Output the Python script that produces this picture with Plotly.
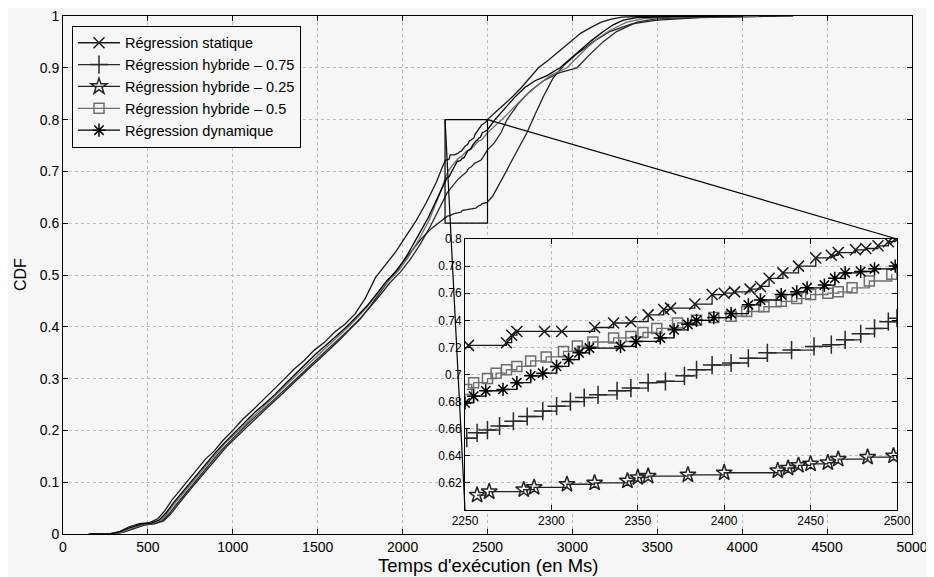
import plotly.graph_objects as go

# ---------------- data ----------------
series_names = ["Régression statique", "Régression hybride – 0.75", "Régression hybride – 0.25",
                "Régression hybride – 0.5", "Régression dynamique"]

statique_x = [150, 270, 330, 390, 450, 510, 560, 600, 640, 690, 740, 790, 840, 890, 940, 1000, 1060, 1120,
              1180, 1240, 1300, 1360, 1420, 1480, 1540, 1600, 1660, 1720, 1780, 1840, 1900, 1960, 2020, 2080,
              2140, 2200, 2230,
              2252, 2274, 2277, 2280, 2296, 2306, 2325, 2336, 2346, 2356, 2365, 2369, 2383, 2393, 2400, 2406,
              2415, 2421, 2426, 2434, 2443, 2453, 2462, 2466, 2476, 2482, 2489, 2495, 2499,
              2550, 2600, 2650, 2700, 2750, 2800, 2860, 2930, 2990, 3050, 3110, 3170, 3230, 3290, 3400, 3600, 3700]
statique_y = [0, 0, 0.004, 0.014, 0.02, 0.022, 0.03, 0.045, 0.065, 0.085, 0.105, 0.125, 0.145, 0.16, 0.18, 0.2,
              0.222, 0.24, 0.26, 0.278, 0.298, 0.318, 0.335, 0.355, 0.37, 0.39, 0.405, 0.425, 0.455, 0.495, 0.52,
              0.545, 0.575, 0.605, 0.64, 0.68, 0.705,
              0.7215, 0.7235, 0.729, 0.7318, 0.7318, 0.7318, 0.7347, 0.738, 0.739, 0.744, 0.748, 0.749, 0.752,
              0.759, 0.760, 0.761, 0.763, 0.765, 0.771, 0.775, 0.780, 0.786, 0.788, 0.790, 0.792, 0.793, 0.795,
              0.798, 0.800,
              0.815, 0.83, 0.845, 0.862, 0.882, 0.9, 0.915, 0.934, 0.952, 0.967, 0.978, 0.988, 0.994, 0.998,
              0.999, 1.0, 1.0]

hyb075_x = [180, 300, 360, 420, 480, 540, 585, 625, 665, 715, 765, 815, 865, 915, 965, 1025, 1085, 1145, 1205,
            1265, 1325, 1385, 1445, 1505, 1565, 1625, 1685, 1745, 1805, 1865, 1925, 1985, 2045, 2105, 2165,
            2210, 2235,
            2251, 2257, 2263, 2270, 2278, 2286, 2295, 2303, 2311, 2319, 2327, 2338, 2346, 2356, 2366, 2377,
            2384, 2393, 2404, 2414, 2425, 2439, 2452, 2462, 2470, 2479, 2487, 2495, 2500,
            2540, 2580, 2615, 2680, 2750, 2830, 2920, 3027, 3100, 3180, 3260, 3380, 3500, 3800, 4300]
hyb075_y = [0, 0, 0.004, 0.012, 0.018, 0.02, 0.026, 0.039, 0.056, 0.076, 0.096, 0.116, 0.135, 0.155, 0.173,
            0.193, 0.212, 0.23, 0.248, 0.266, 0.285, 0.303, 0.322, 0.34, 0.358, 0.376, 0.395, 0.414, 0.436,
            0.46, 0.485, 0.505, 0.53, 0.56, 0.595, 0.625, 0.642,
            0.653, 0.657, 0.659, 0.662, 0.6655, 0.669, 0.673, 0.6766, 0.680, 0.683, 0.685, 0.688, 0.690,
            0.694, 0.695, 0.699, 0.7035, 0.707, 0.7085, 0.712, 0.716, 0.718, 0.7207, 0.722, 0.7256, 0.730,
            0.734, 0.739, 0.7416,
            0.755, 0.775, 0.8, 0.83, 0.855, 0.875, 0.89, 0.9, 0.925, 0.95, 0.97, 0.988, 0.995, 0.998, 1.0]

hyb025_x = [190, 300, 360, 420, 480, 540, 590, 630, 670, 720, 770, 820, 870, 920, 970, 1030, 1090, 1150, 1210,
            1270, 1330, 1390, 1450, 1510, 1570, 1630, 1690, 1750, 1810, 1870, 1930, 1990, 2050, 2110, 2170,
            2220,
            2257, 2264, 2284, 2290, 2309, 2325, 2344, 2350, 2356, 2379, 2400, 2431, 2437, 2443, 2450, 2460,
            2466, 2483, 2498,
            2530, 2570, 2610, 2650, 2690, 2733, 2780, 2830, 2886, 2950, 3020, 3121, 3220, 3350, 3500, 3750, 4200]
hyb025_y = [0, 0, 0.004, 0.011, 0.017, 0.02, 0.025, 0.037, 0.054, 0.074, 0.094, 0.114, 0.134, 0.152, 0.171,
            0.19, 0.209, 0.228, 0.246, 0.264, 0.283, 0.302, 0.32, 0.338, 0.356, 0.375, 0.395, 0.415, 0.44,
            0.468, 0.495, 0.52, 0.545, 0.57, 0.59, 0.603,
            0.611, 0.6135, 0.615, 0.6167, 0.619, 0.620, 0.6215, 0.624, 0.625, 0.626, 0.6275, 0.629, 0.631,
            0.633, 0.634, 0.635, 0.6375, 0.639, 0.640,
            0.652, 0.675, 0.7, 0.725, 0.75, 0.775, 0.81, 0.845, 0.88, 0.905, 0.925, 0.95, 0.97, 0.985, 0.992,
            0.997, 1.0]

hyb05_x = [170, 290, 350, 410, 470, 530, 575, 615, 655, 705, 755, 805, 855, 905, 955, 1015, 1075, 1135, 1195,
           1255, 1315, 1375, 1435, 1495, 1555, 1615, 1675, 1735, 1795, 1855, 1915, 1975, 2035, 2095, 2155,
           2205, 2235,
           2251, 2255, 2263, 2268, 2274, 2280, 2288, 2297, 2307, 2315, 2324, 2336, 2346, 2353, 2361, 2373,
           2384, 2394, 2404, 2413, 2423, 2433, 2442, 2450, 2460, 2466, 2474, 2484, 2497,
           2585, 2650, 2720, 2790, 2870, 2968, 3030, 3090, 3150, 3220, 3320, 3420, 3600, 4100]
hyb05_y = [0, 0, 0.004, 0.012, 0.018, 0.021, 0.027, 0.04, 0.058, 0.078, 0.098, 0.118, 0.137, 0.156, 0.175,
           0.194, 0.213, 0.232, 0.25, 0.268, 0.287, 0.306, 0.325, 0.343, 0.361, 0.38, 0.398, 0.418, 0.44,
           0.465, 0.488, 0.508, 0.535, 0.568, 0.605, 0.645, 0.672,
           0.689, 0.694, 0.697, 0.701, 0.7035, 0.706, 0.710, 0.713, 0.717, 0.721, 0.724, 0.727, 0.728, 0.731,
           0.734, 0.738, 0.740, 0.742, 0.743, 0.7465, 0.750, 0.754, 0.756, 0.759, 0.760, 0.761, 0.764, 0.769,
           0.774,
           0.8, 0.822, 0.845, 0.865, 0.885, 0.9, 0.92, 0.94, 0.957, 0.972, 0.988, 0.995, 0.998, 1.0]

dyn_x = [160, 280, 340, 400, 460, 520, 570, 610, 650, 700, 750, 800, 850, 900, 950, 1010, 1070, 1130, 1190,
         1250, 1310, 1370, 1430, 1490, 1550, 1610, 1670, 1730, 1790, 1850, 1910, 1970, 2030, 2090, 2150, 2200,
         2230,
         2250, 2255, 2262, 2272, 2280, 2288, 2295, 2303, 2310, 2316, 2322, 2340, 2349, 2363, 2371, 2379, 2384,
         2394, 2404, 2414, 2421, 2433, 2442, 2448, 2458, 2464, 2470, 2479, 2487, 2499,
         2544, 2600, 2660, 2720, 2780, 2850, 2927, 2990, 3050, 3110, 3170, 3240, 3300, 3380, 3600, 4000]
dyn_y = [0, 0, 0.005, 0.013, 0.019, 0.021, 0.028, 0.042, 0.06, 0.08, 0.1, 0.12, 0.14, 0.158, 0.176, 0.196,
         0.215, 0.235, 0.252, 0.27, 0.29, 0.31, 0.33, 0.348, 0.365, 0.382, 0.4, 0.42, 0.44, 0.465, 0.49, 0.51,
         0.54, 0.575, 0.61, 0.645, 0.665,
         0.679, 0.684, 0.688, 0.689, 0.694, 0.699, 0.701, 0.706, 0.711, 0.716, 0.7195, 0.7207, 0.7244, 0.727,
         0.733, 0.737, 0.740, 0.742, 0.745, 0.7514, 0.755, 0.759, 0.761, 0.764, 0.766, 0.771, 0.775, 0.776,
         0.778, 0.780,
         0.8, 0.82, 0.843, 0.862, 0.875, 0.885, 0.9, 0.918, 0.935, 0.952, 0.967, 0.983, 0.992, 0.997, 0.999, 1.0]

main_xticks = [0, 500, 1000, 1500, 2000, 2500, 3000, 3500, 4000, 4500, 5000]
main_yticks = [0, 0.1, 0.2, 0.3, 0.4, 0.5, 0.6, 0.7, 0.8, 0.9, 1]
inset_xticks = [2250, 2300, 2350, 2400, 2450, 2500]
inset_yticks = [0.62, 0.64, 0.66, 0.68, 0.7, 0.72, 0.74, 0.76, 0.78, 0.8]

# ---------------- style ----------------
MAIN_XR = [0, 5000]
MAIN_YR = [0, 1]
ZOOM_XR = [2250, 2500]
ZOOM_YR = [0.6, 0.8]
INSET_DX = [0.4735, 0.9823]
INSET_DY = [0.0463, 0.5695]

FONT = "Liberation Sans, Arial, Helvetica, sans-serif"
BG = "#f6f6f6"

styles = [
    dict(color="#1a1a1a", symbol="x-thin-open", size=11),
    dict(color="#2a2a2a", symbol="cross-thin-open", size=13),
    dict(color="#222222", symbol="star-open", size=12),
    dict(color="#6e6e6e", symbol="square-open", size=10),
    dict(color="#000000", symbol="asterisk-open", size=11),
]
data_x = [statique_x, hyb075_x, hyb025_x, hyb05_x, dyn_x]
data_y = [statique_y, hyb075_y, hyb025_y, hyb05_y, dyn_y]

fig = go.Figure()

# main curves
for name, xs, ys, st in zip(series_names, data_x, data_y, styles):
    fig.add_trace(go.Scatter(x=xs, y=ys, mode="lines", name=name, showlegend=False,
                             line=dict(color=st["color"], width=1.3),
                             xaxis="x", yaxis="y", hoverinfo="skip"))

# inset curves (zoomed region, with markers) - also carry the legend
for name, xs, ys, st in zip(series_names, data_x, data_y, styles):
    zx = [x for x, y in zip(xs, ys) if ZOOM_XR[0] <= x <= ZOOM_XR[1]]
    zy = [y for x, y in zip(xs, ys) if ZOOM_XR[0] <= x <= ZOOM_XR[1]]
    fig.add_trace(go.Scatter(x=zx, y=zy, mode="lines+markers", name=name, showlegend=True,
                             line=dict(color=st["color"], width=1.3, shape="hv"),
                             marker=dict(symbol=st["symbol"], size=st["size"], color=st["color"],
                                         line=dict(color=st["color"], width=1.5)),
                             xaxis="x2", yaxis="y2", cliponaxis=True))

axis_common = dict(showline=True, linecolor="black", linewidth=1, mirror="allticks",
                   ticks="inside", ticklen=5, tickcolor="black", zeroline=False, automargin=False,
                   ticklabeloverflow="allow",
                   showgrid=True, gridcolor="#bdbdbd", griddash="dot", gridwidth=1)

fig.update_layout(
    width=926, height=569,
    margin=dict(l=55, r=22, t=8, b=43),
    paper_bgcolor=BG, plot_bgcolor=BG,
    font=dict(family=FONT, size=14, color="black"),
    xaxis=dict(domain=[0, 1], range=MAIN_XR, tickvals=main_xticks, anchor="y",
               tickfont=dict(size=14), **axis_common),
    yaxis=dict(domain=[0, 1], range=MAIN_YR, tickvals=main_yticks, anchor="x",
               tickfont=dict(size=14), **axis_common),
    xaxis2=dict(domain=INSET_DX, range=ZOOM_XR, tickvals=inset_xticks, anchor="y2",
                tickfont=dict(size=12), **axis_common),
    yaxis2=dict(domain=INSET_DY, range=ZOOM_YR, tickvals=inset_yticks, anchor="x2",
                tickfont=dict(size=12), **axis_common),
    legend=dict(x=0.0106, y=0.981, xanchor="left", yanchor="top",
                bgcolor=BG, bordercolor="black", borderwidth=1,
                font=dict(size=14.5), itemwidth=42, tracegroupgap=0),
    showlegend=True,
)

# axis titles as annotations
fig.add_annotation(text="Temps d'exécution (en Ms)", xref="paper", yref="paper", x=0.5, y=0,
                   yshift=-31, xanchor="center", yanchor="middle", showarrow=False,
                   font=dict(size=18.5, family=FONT, color="black"))
fig.add_annotation(text="CDF", xref="paper", yref="paper", x=0, y=0.5, xshift=-43,
                   xanchor="center", yanchor="middle", textangle=-90, showarrow=False,
                   font=dict(size=16, family=FONT, color="black"))

# inset background covering main grid
fig.add_shape(type="rect", xref="x2 domain", yref="y2 domain", x0=0, x1=1, y0=0, y1=1,
              fillcolor=BG, line=dict(width=0), layer="below")

# zoom rectangle on the main axes
fig.add_shape(type="rect", xref="x", yref="y", x0=ZOOM_XR[0], x1=ZOOM_XR[1], y0=ZOOM_YR[0], y1=ZOOM_YR[1],
              line=dict(color="black", width=1.2), layer="above")

# connector lines (inset corners expressed in main data coordinates)
ix0 = MAIN_XR[0] + INSET_DX[0] * (MAIN_XR[1] - MAIN_XR[0])
ix1 = MAIN_XR[0] + INSET_DX[1] * (MAIN_XR[1] - MAIN_XR[0])
iy0 = MAIN_YR[0] + INSET_DY[0] * (MAIN_YR[1] - MAIN_YR[0])
iy1 = MAIN_YR[0] + INSET_DY[1] * (MAIN_YR[1] - MAIN_YR[0])
fig.add_shape(type="line", xref="x", yref="y", x0=ZOOM_XR[0], y0=ZOOM_YR[1], x1=ix0, y1=iy0,
              line=dict(color="black", width=1.2), layer="above")
fig.add_shape(type="line", xref="x", yref="y", x0=ZOOM_XR[1], y0=ZOOM_YR[1], x1=ix1, y1=iy1,
              line=dict(color="black", width=1.2), layer="above")

fig.write_html("out.html")
